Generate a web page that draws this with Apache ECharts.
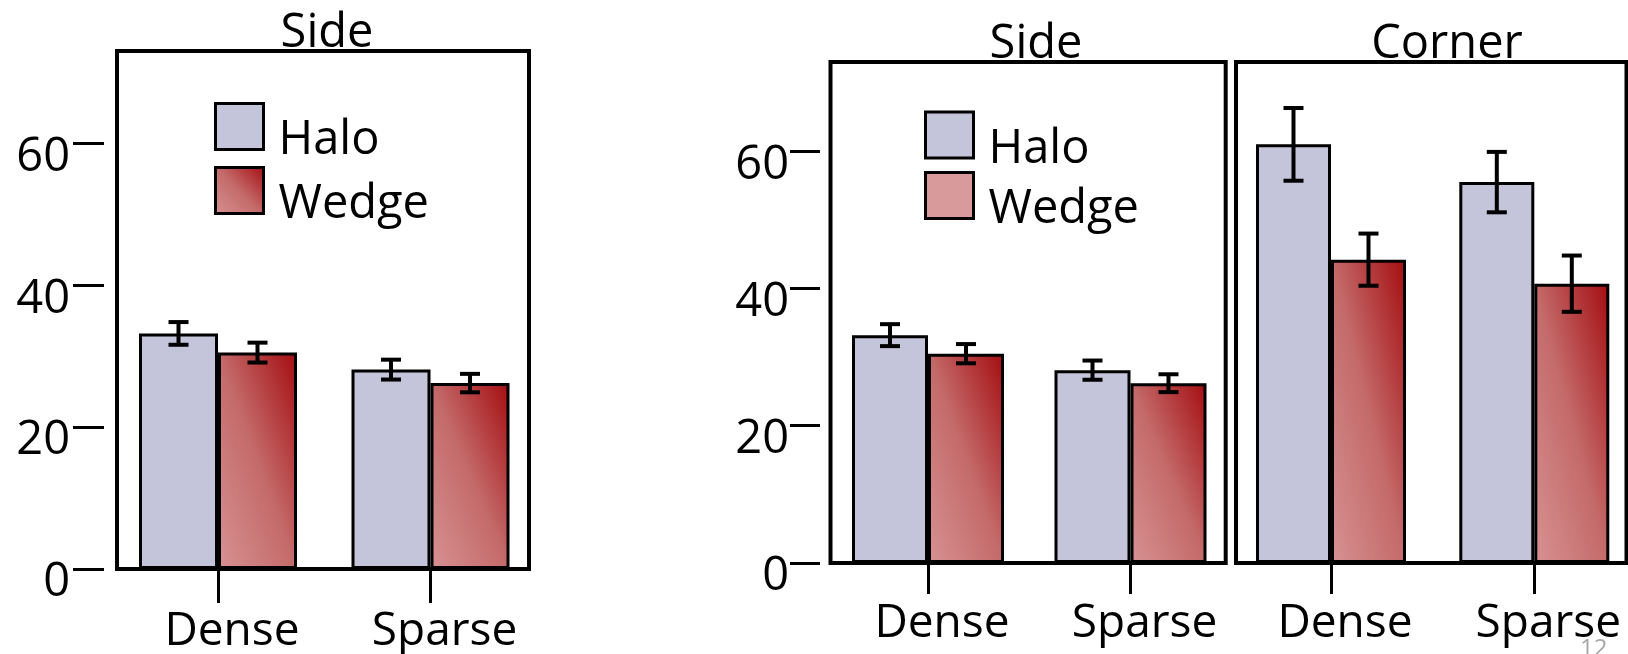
<!DOCTYPE html>
<html>
<head>
<meta charset="utf-8">
<script src="https://cdn.jsdelivr.net/npm/echarts@6/dist/echarts.min.js"></script>
<style>
html,body{margin:0;padding:0;background:#fff;}
#chart{width:1628px;height:654px;}
</style>
</head>
<body>
<div id="chart"></div>
<script>
// ---- data ----
const categories = ['Dense', 'Sparse'];
const seriesNames = ['Halo', 'Wedge'];
const panelTitles = ['Side', 'Side', 'Corner'];
const yTicks = [0, 20, 40, 60];
const sideHalo = [33.2, 28.1];
const sideWedge = [30.5, 26.2];
const sideHaloErr = [1.6, 1.4];
const sideWedgeErr = [1.4, 1.3];
const cornerHalo = [61.0, 55.5];
const cornerWedge = [44.2, 40.7];
const cornerHaloErr = [5.3, 4.4];
const cornerWedgeErr = [3.8, 4.1];
const slideNumber = '12';

// ---- style ----
const FONT = 'Open Sans';
const HALO_COLOR = '#c4c5da';
const Y_MAX = 73;
const W = 1628, H = 654;
const wedgeStops = [
  {offset: 0, color: '#d79292'},
  {offset: 0.5, color: '#c46a6a'},
  {offset: 1, color: '#a40c0f'}
];

// frame = boxed panel; plot = band area used to place the bars
const panels = [
  {frame: [117, 529], plot: [111.75, 536.75], top: 51, bottomEdge: 569, barWidth: 79,
   halo: sideHalo, wedge: sideWedge, haloErr: sideHaloErr, wedgeErr: sideWedgeErr,
   showY: true, yTickEnd: 104, yTickLen: 31, yLabelMargin: 34,
   xTickLen: 34, xLabelMargin: 40, titleX: 327, titleTop: 10,
   legend: {left: 214, top: 102, gap: 1.5, wedgeFill: 'grad'}},
  {frame: [830.5, 1225.7], plot: [826.75, 1231.75], top: 62, bottomEdge: 563, barWidth: 76,
   halo: sideHalo, wedge: sideWedge, haloErr: sideHaloErr, wedgeErr: sideWedgeErr,
   showY: true, yTickEnd: 820, yTickLen: 30, yLabelMargin: 31,
   xTickLen: 31, xLabelMargin: 38, titleX: 1036, titleTop: 21,
   legend: {left: 924, top: 110.5, gap: -2, wedgeFill: '#d99a9b'}},
  {frame: [1236, 1626.5], plot: [1229.35, 1635.95], top: 62, bottomEdge: 563, barWidth: 75,
   halo: cornerHalo, wedge: cornerWedge, haloErr: cornerHaloErr, wedgeErr: cornerWedgeErr,
   showY: false, xTickLen: 31, xLabelMargin: 38, titleX: 1447, titleTop: 21,
   legend: null}
];

function wedgeFill(heightPx, w) {
  const h = Math.max(heightPx, 1);
  const k = 2 / (1 / (w * w) + 1 / (h * h));
  return new echarts.graphic.LinearGradient(0, 1, k / (w * w), 1 - k / (h * h), wedgeStops);
}

function errRender(offset) {
  return function (params, api) {
    const lo = api.coord([api.value(0), api.value(1)]);
    const hi = api.coord([api.value(0), api.value(2)]);
    const x = lo[0] + offset;
    const st = {stroke: '#000', lineWidth: 4};
    return {
      type: 'group',
      children: [
        {type: 'line', shape: {x1: x, y1: hi[1], x2: x, y2: lo[1]}, style: st},
        {type: 'line', shape: {x1: x - 10, y1: hi[1], x2: x + 10, y2: hi[1]}, style: st},
        {type: 'line', shape: {x1: x - 10, y1: lo[1], x2: x + 10, y2: lo[1]}, style: st}
      ]
    };
  };
}

const grids = [], xAxes = [], yAxes = [], series = [], titles = [], legends = [];
const NP = panels.length;

// frame grids (border only)
panels.forEach((p, i) => {
  grids.push({
    left: p.frame[0], right: W - p.frame[1], top: p.top, bottom: H - p.bottomEdge,
    show: true, borderColor: '#000', borderWidth: 4, backgroundColor: 'transparent',
    containLabel: false, outerBoundsMode: 'none'
  });
  xAxes.push({type: 'value', gridIndex: i, show: false});
  yAxes.push({type: 'value', gridIndex: i, show: false});
});

// plot grids (bars, axes)
panels.forEach((p, i) => {
  const g = NP + i;
  grids.push({
    left: p.plot[0], right: W - p.plot[1], top: p.top, bottom: H - p.bottomEdge,
    show: false, containLabel: false, outerBoundsMode: 'none'
  });
  xAxes.push({
    type: 'category', gridIndex: g, data: categories,
    axisLine: {show: false},
    axisTick: {show: true, alignWithLabel: true, length: p.xTickLen, lineStyle: {color: '#000', width: 3}},
    axisLabel: {interval: 0, margin: p.xLabelMargin, fontSize: 46, color: '#000', fontFamily: FONT,
                padding: [0, 0, 0, 28]},
    splitLine: {show: false}
  });
  yAxes.push({
    type: 'value', gridIndex: g, min: 0, max: Y_MAX, interval: 20, show: p.showY,
    offset: p.showY ? p.plot[0] - p.yTickEnd : 0,
    axisLine: {show: false},
    axisTick: {show: true, length: p.yTickLen || 0, customValues: yTicks, lineStyle: {color: '#000', width: 3}},
    axisLabel: {customValues: yTicks, fontSize: 47, color: '#000', fontFamily: FONT,
                margin: p.yLabelMargin || 0, verticalAlign: 'top', lineHeight: 28},
    splitLine: {show: false}
  });
  const pxPerUnit = (p.bottomEdge - p.top) / Y_MAX;
  const bw = p.barWidth;
  series.push({
    type: 'bar', name: seriesNames[0], xAxisIndex: g, yAxisIndex: g, data: p.halo,
    barWidth: bw, barGap: '0%',
    itemStyle: {color: HALO_COLOR, borderColor: '#000', borderWidth: 3}
  });
  series.push({
    type: 'bar', name: seriesNames[1], xAxisIndex: g, yAxisIndex: g, data: p.wedge,
    barWidth: bw, barGap: '0%',
    itemStyle: {color: (prm) => wedgeFill(prm.value * pxPerUnit, bw), borderColor: '#000', borderWidth: 3}
  });
  series.push({
    type: 'custom', xAxisIndex: g, yAxisIndex: g, z: 5, silent: true,
    encode: {x: 0, y: [1, 2]},
    data: categories.map((c, j) => [j, p.halo[j] - p.haloErr[j], p.halo[j] + p.haloErr[j]]),
    renderItem: errRender(-bw / 2)
  });
  series.push({
    type: 'custom', xAxisIndex: g, yAxisIndex: g, z: 5, silent: true,
    encode: {x: 0, y: [1, 2]},
    data: categories.map((c, j) => [j, p.wedge[j] - p.wedgeErr[j], p.wedge[j] + p.wedgeErr[j]]),
    renderItem: errRender(bw / 2)
  });
  titles.push({
    text: panelTitles[i], left: p.titleX, top: p.titleTop, textAlign: 'center', padding: 0,
    textStyle: {fontSize: 47, fontWeight: 'normal', color: '#000', fontFamily: FONT}
  });
  if (p.legend) {
    const wf = p.legend.wedgeFill === 'grad'
      ? new echarts.graphic.LinearGradient(0, 1, 1, 0, wedgeStops)
      : p.legend.wedgeFill;
    legends.push({
      left: p.legend.left, top: p.legend.top, orient: 'vertical', itemGap: p.legend.gap,
      itemWidth: 48, itemHeight: 46, padding: 0, icon: 'rect', selectedMode: false,
      data: [
        {name: seriesNames[0], itemStyle: {color: HALO_COLOR, borderColor: '#000', borderWidth: 3}},
        {name: seriesNames[1], itemStyle: {color: wf, borderColor: '#000', borderWidth: 3}}
      ],
      formatter: '{t|{name}}',
      textStyle: {
        fontSize: 47, color: '#000', fontFamily: FONT,
        rich: {t: {fontSize: 47, color: '#000', fontFamily: FONT, height: 17, padding: [29, 0, 0, 10], lineHeight: 46}}
      }
    });
  }
});

const chart = echarts.init(document.getElementById('chart'), null, {renderer: 'canvas', width: W, height: H});
chart.setOption({
  animation: false,
  backgroundColor: '#fff',
  title: titles,
  legend: legends,
  grid: grids,
  xAxis: xAxes,
  yAxis: yAxes,
  series: series,
  graphic: [{
    type: 'text', left: 1580, top: 637, z: -1,
    style: {text: slideNumber, fontSize: 24, fill: '#a8a8a8', fontFamily: FONT}
  }]
});
</script>
</body>
</html>
